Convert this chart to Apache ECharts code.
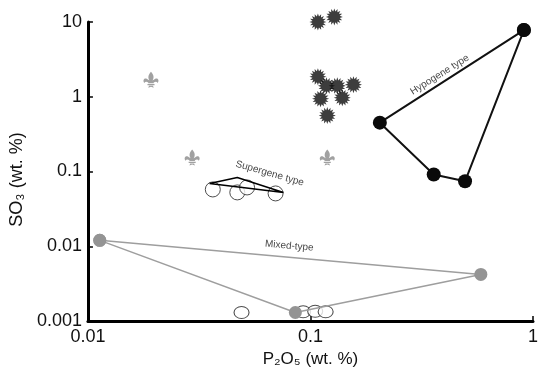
<!DOCTYPE html>
<html>
<head>
<meta charset="utf-8">
<script src="https://cdn.jsdelivr.net/npm/echarts@6/dist/echarts.min.js"></script>
<style>
  html, body { margin: 0; padding: 0; background: #fff; }
  #chart { width: 541px; height: 374px; }
</style>
</head>
<body>
<div id="chart"></div>
<script>
// axis ticks
const xTicks = [0.01, 0.1, 1]
const yTicks = [0.001, 0.01, 0.1, 1, 10]

// Hypogene type (closed polygon, black dots)
const hypogene = [[0.91, 7.8], [0.205, 0.45], [0.358, 0.091], [0.495, 0.074], [0.91, 7.8]]
// Mixed-type (closed polygon, grey dots)
const mixed = [[0.0113, 0.012], [0.583, 0.0042], [0.0855, 0.0013], [0.0113, 0.012]]
// Supergene type outline + open circles
const supergeneLine = [[0.0352, 0.069], [0.0469, 0.083], [0.0756, 0.0525], [0.0352, 0.069]]
const supergeneDots = [[0.0364, 0.0575], [0.0469, 0.0525], [0.0519, 0.0612], [0.0697, 0.0509]]
// open circles sitting on the x axis
const baseDots = [[0.049, 0.0013], [0.0927, 0.00133], [0.105, 0.00135], [0.117, 0.00133]]
// grey fleur symbols
const fleurDots = [[0.0192, 1.69], [0.0294, 0.154], [0.119, 0.154]]
// black star symbols
const starDots = [
  [0.108, 10], [0.128, 11.7], [0.108, 1.85], [0.118, 1.4], [0.132, 1.4],
  [0.156, 1.45], [0.111, 0.94], [0.139, 0.97], [0.119, 0.56]
]
// polygon labels: [x, y, text, rotate]
const typeLabels = [
  [0.381, 1.97, 'Hypogene type', 32],
  [0.0656, 0.094, 'Supergene type', -16],
  [0.0803, 0.0101, 'Mixed-type', -5]
]

// star burst shape
function starPath(n, ro, ri) {
  let d = ''
  for (let i = 0; i < n * 2; i++) {
    const r = i % 2 ? ri : ro
    const a = (Math.PI * i) / n
    d += (i ? 'L' : 'M') + (10 + r * Math.sin(a)).toFixed(2) + ' ' + (10 - r * Math.cos(a)).toFixed(2)
  }
  return 'path://' + d + 'Z'
}
const fleurPath = 'path://M10 0 C14 4 14 8 12 11 L15 9 C19 7 21 11 18.5 14 C17.5 12 15.5 12 13.5 13.5 L13.5 14.5 L6.5 14.5 L6.5 13.5 C4.5 12 2.5 12 1.5 14 C-1 11 1 7 5 9 L8 11 C6 8 6 4 10 0 Z M5.5 15.3 L14.5 15.3 L14.5 17 L5.5 17 Z M7.5 17.5 L12.5 17.5 L13.5 20 L10 18.8 L6.5 20 Z'

const font = 'Liberation Sans, Arial, sans-serif'
const chart = echarts.init(document.getElementById('chart'), null, { renderer: 'canvas' })

const axisCommon = {
  type: 'log',
  logBase: 10,
  axisLine: { show: true, lineStyle: { color: '#000', width: 3 } },
  axisTick: { show: true, inside: true, length: 5, lineStyle: { color: '#000', width: 1.5 } },
  minorTick: { show: false },
  splitLine: { show: false },
  nameLocation: 'middle',
  nameTextStyle: { color: '#111', fontSize: 17, fontFamily: font },
  axisLabel: {
    color: '#111', fontSize: 18, fontFamily: font, showMinLabel: true, showMaxLabel: true,
    formatter: (v) => String(+v.toPrecision(3))
  }
}

chart.setOption({
  animation: false,
  grid: { left: 86, right: 2, top: 22, bottom: 53, containLabel: false },
  xAxis: Object.assign({}, axisCommon, {
    min: xTicks[0], max: xTicks[xTicks.length - 1],
    name: 'P₂O₅ (wt. %)', nameGap: 28,
    axisLabel: Object.assign({}, axisCommon.axisLabel, { margin: 7 })
  }),
  yAxis: Object.assign({}, axisCommon, {
    min: yTicks[0], max: yTicks[yTicks.length - 1],
    name: 'SO₃ (wt. %)', nameGap: 58,
    nameTextStyle: Object.assign({}, axisCommon.nameTextStyle, { fontSize: 18, padding: [0, 16, 0, 0] }),
    axisLabel: Object.assign({}, axisCommon.axisLabel, { margin: 6 })
  }),
  series: [
    {
      type: 'line', data: mixed, symbol: 'circle', symbolSize: 13, clip: false,
      lineStyle: { color: '#9e9e9e', width: 1.5 }, itemStyle: { color: '#949494' }
    },
    {
      type: 'line', data: hypogene, symbol: 'circle', symbolSize: 14, clip: false,
      lineStyle: { color: '#111', width: 2 }, itemStyle: { color: '#0a0a0a' }
    },
    {
      type: 'scatter', data: supergeneDots, symbol: 'circle', symbolSize: 15, clip: false,
      itemStyle: { color: '#fff', borderColor: '#222', borderWidth: 1 }
    },
    {
      type: 'line', data: supergeneLine, symbol: 'none', clip: false,
      lineStyle: { color: '#000', width: 1.5 }
    },
    {
      type: 'scatter', data: baseDots, symbol: 'circle', symbolSize: [15, 12], clip: false,
      itemStyle: { color: '#fff', borderColor: '#222', borderWidth: 1 }, z: 1
    },
    {
      type: 'scatter', data: fleurDots, symbol: fleurPath, symbolSize: [15, 16], clip: false,
      itemStyle: { color: '#8a8a8a' }
    },
    {
      type: 'scatter', data: starDots, symbol: starPath(16, 10, 6.5), symbolSize: 17, clip: false,
      itemStyle: { color: '#0d0d0d' }
    },
    {
      type: 'scatter', symbolSize: 0, clip: false, silent: true,
      data: typeLabels.map((d) => ({
        value: [d[0], d[1]],
        label: { show: true, position: 'inside', formatter: d[2], rotate: d[3], color: '#111', fontSize: 10, fontFamily: font }
      }))
    }
  ]
})
</script>
</body>
</html>
